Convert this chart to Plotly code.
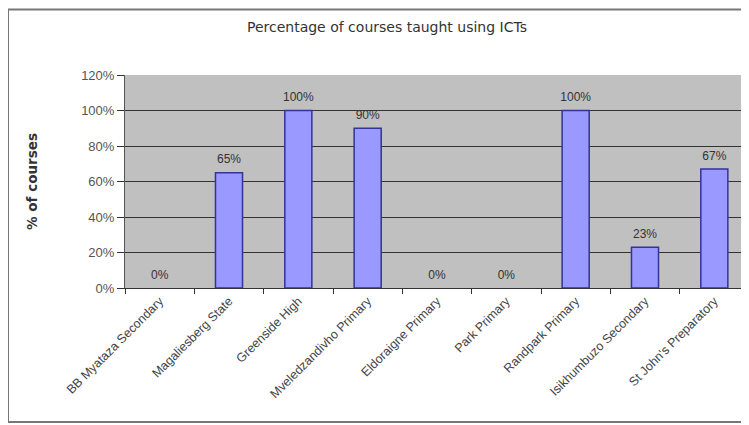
import plotly.graph_objects as go

schools = ["BB Myataza Secondary", "Magaliesberg State", "Greenside High",
           "Mveledzandivho Primary", "Eldoraigne Primary", "Park Primary",
           "Randpark Primary", "Isikhumbuzo Secondary", "St John's Preparatory"]
pct = [0, 65, 100, 90, 0, 0, 100, 23, 67]
y_ticks = [0, 20, 40, 60, 80, 100, 120]
y_tick_labels = ["0%", "20%", "40%", "60%", "80%", "100%", "120%"]

fig = go.Figure()
fig.add_trace(go.Bar(
    x=schools, y=pct,
    marker=dict(color="#9999ff",
                line=dict(color="#333399", width=[0 if v == 0 else 1.5 for v in pct])),
    hoverinfo="x+y",
))
# value labels on an overlaid, slightly shifted axis so they sit a bit higher above the bars
fig.add_trace(go.Scatter(
    x=schools, y=pct, mode="text", yaxis="y2",
    text=[f"{v}%" for v in pct], textposition="top center",
    textfont=dict(family="Arial", size=12, color="#333333"),
    cliponaxis=False, hoverinfo="skip",
))

fig.update_layout(
    width=749, height=425,
    margin=dict(l=117, r=8, t=67, b=145),
    paper_bgcolor="white", plot_bgcolor="#c0c0c0",
    bargap=0.61, showlegend=False,
    title=dict(text="Percentage of courses taught using ICTs", x=0.506, xanchor="center",
               y=0.955, yanchor="middle",
               font=dict(family="DejaVu Sans", size=14, color="#333333")),
    font=dict(family="Arial", size=10, color="#333333"),
    xaxis=dict(tickangle=-45, ticks="outside", ticklen=5, tickcolor="#333333",
               tickson="boundaries",
               tickfont=dict(family="Arial", size=12.5, color="#444444"),
               showline=True, linecolor="#333333", linewidth=1, showgrid=False,
               automargin=False),
    yaxis=dict(range=[0, 120], tickvals=y_ticks, ticktext=y_tick_labels,
               ticks="outside", ticklen=7, tickcolor="#333333",
               tickfont=dict(family="Arial", size=13, color="#555555"),
               showgrid=True, gridcolor="#333333", gridwidth=1,
               showline=True, linecolor="#555555", zeroline=False,
               automargin=False,
               title=dict(text="<b>% of courses</b>", standoff=40,
                          font=dict(family="DejaVu Sans", size=13.5, color="#333333"))),
    yaxis2=dict(overlaying="y", range=[-3.5, 116.5], visible=False, fixedrange=True),
    shapes=[dict(type="rect", xref="paper", yref="paper",
                 x0=-0.1875, x1=1.05, y0=-0.629, y1=1.3075,
                 line=dict(color="#777777", width=2), fillcolor="rgba(0,0,0,0)")],
)

fig.write_html("out.html")
